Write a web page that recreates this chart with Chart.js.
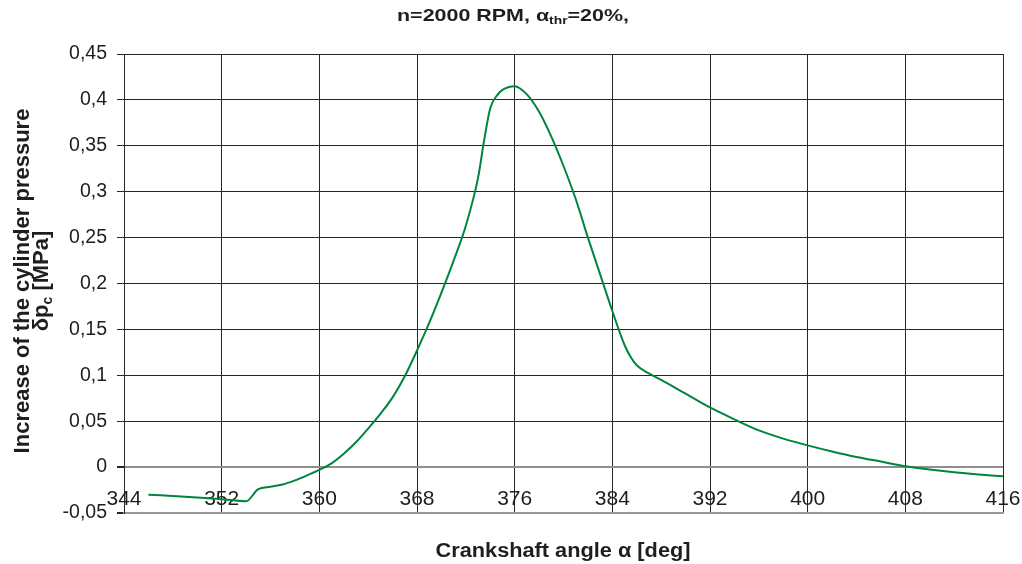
<!DOCTYPE html>
<html>
<head>
<meta charset="utf-8">
<script src="https://cdn.jsdelivr.net/npm/chart.js@4.4.1/dist/chart.umd.min.js"></script>
<style>
  html, body { margin: 0; padding: 0; background: #ffffff; }
  #wrap { width: 1022px; height: 564px; position: relative; }
</style>
</head>
<body>
<div id="wrap"><canvas id="c" width="1022" height="564"></canvas></div>
<script>
// ---- data ----
const angles = [346, 348, 350, 352, 354, 355, 356, 357, 358, 359, 360, 361, 362, 363, 364, 365, 366, 367, 368, 369, 370, 371, 372, 373, 373.5, 374, 374.5, 375, 376, 377, 378, 379, 380, 381, 382, 383, 384, 385, 385.5, 386, 387, 388, 390, 392, 394, 396, 398, 400, 402, 404, 406, 408, 410, 412, 414, 416];
const pressureIncrease = [-0.030, -0.0315, -0.033, -0.035, -0.0372, -0.024, -0.0215, -0.019, -0.0145, -0.009, -0.003, 0.004, 0.0145, 0.027, 0.042, 0.058, 0.076, 0.099, 0.127, 0.157, 0.19, 0.225, 0.263, 0.315, 0.356, 0.391, 0.404, 0.411, 0.415, 0.406, 0.387, 0.36, 0.328, 0.292, 0.25, 0.21, 0.17, 0.133, 0.12, 0.111, 0.102, 0.095, 0.080, 0.065, 0.052, 0.040, 0.031, 0.0237, 0.017, 0.011, 0.006, 0.001, -0.0025, -0.0055, -0.008, -0.010];
const xTicks = [344, 352, 360, 368, 376, 384, 392, 400, 408, 416];
const yTicks = [-0.05, 0, 0.05, 0.1, 0.15, 0.2, 0.25, 0.3, 0.35, 0.4, 0.45];

const FONT = "'Liberation Sans', Arial, Helvetica, sans-serif";
const TEXT = '#1e1e1e';

function fmtComma(v) {
  let s = (Math.round(v * 100) / 100).toString();
  return s.replace('.', ',');
}

function measureRuns(ctx, runs, weight) {
  let w = 0;
  runs.forEach(r => { ctx.font = weight + ' ' + r[1] + 'px ' + FONT; w += ctx.measureText(r[0]).width; });
  return w;
}
function paintRuns(ctx, runs, weight, x0, y0) {
  let x = x0;
  runs.forEach(r => {
    ctx.font = weight + ' ' + r[1] + 'px ' + FONT;
    ctx.fillText(r[0], x, y0 + (r[2] || 0));
    x += ctx.measureText(r[0]).width;
  });
}

const titlesPlugin = {
  id: 'titles',
  afterDraw(chart) {
    const ctx = chart.ctx;
    ctx.save();
    ctx.fillStyle = TEXT;
    ctx.textBaseline = 'alphabetic';
    ctx.textAlign = 'left';

    // chart title
    const tRuns = [['n=2000 RPM, ', 17, 0], ['\u03B1', 17, 0], ['thr', 11, 3], ['=20%,', 17, 0]];
    let w = measureRuns(ctx, tRuns, 'bold');
    let sx = 232 / w;
    ctx.save();
    ctx.translate(513, 21);
    ctx.scale(sx, 1);
    paintRuns(ctx, tRuns, 'bold', -w / 2, 0);
    ctx.restore();

    // x axis title
    const xRuns = [['Crankshaft angle \u03B1 [deg]', 19.5, 0]];
    w = measureRuns(ctx, xRuns, 'bold');
    sx = 255 / w;
    ctx.save();
    ctx.translate(563, 557);
    ctx.scale(sx, 1);
    paintRuns(ctx, xRuns, 'bold', -w / 2, 0);
    ctx.restore();

    // y axis title (two lines, rotated)
    const y1 = [['Increase of the cylinder pressure', 22, 0]];
    const y2 = [['\u03B4p', 22, 0], ['c', 14, 4], [' [MPa]', 22, 0]];
    ctx.save();
    ctx.translate(29, 281);
    ctx.rotate(-Math.PI / 2);
    w = measureRuns(ctx, y1, 'bold');
    paintRuns(ctx, y1, 'bold', -w / 2, 0);
    ctx.restore();
    ctx.save();
    ctx.translate(48, 281);
    ctx.rotate(-Math.PI / 2);
    w = measureRuns(ctx, y2, 'bold');
    paintRuns(ctx, y2, 'bold', -w / 2, 0);
    ctx.restore();

    ctx.restore();
  }
};

new Chart(document.getElementById('c'), {
  type: 'line',
  data: {
    datasets: [{
      data: angles.map((a, i) => ({ x: a, y: pressureIncrease[i] })),
      borderColor: '#00853e',
      borderWidth: 2,
      pointRadius: 0,
      fill: false,
      cubicInterpolationMode: 'monotone'
    }]
  },
  options: {
    responsive: false,
    animation: false,
    layout: { padding: { top: 54, right: 19, left: 0, bottom: 0 } },
    plugins: { legend: { display: false }, title: { display: false }, tooltip: { enabled: false } },
    scales: {
      x: {
        type: 'linear',
        min: 344, max: 416,
        afterBuildTicks(scale) { scale.ticks = xTicks.map(v => ({ value: v })); },
        afterFit(scale) { scale.height = 51; },
        grid: {
          color: '#262626', lineWidth: 1, drawTicks: false
        },
        border: { display: true, color: '#999999', width: 2 },
        ticks: {
          color: TEXT, font: { family: FONT, size: 21 }, padding: 1, mirror: true,
          maxRotation: 0, autoSkip: false,
          callback: v => String(v)
        }
      },
      y: {
        type: 'linear',
        min: -0.05, max: 0.45,
        afterBuildTicks(scale) { scale.ticks = yTicks.map(v => ({ value: v })); },
        afterFit(scale) { scale.width = 124; },
        grid: {
          color: c => (Math.abs(c.tick.value) < 1e-9 || Math.abs(c.tick.value + 0.05) < 1e-9) ? '#8e8e8e' : '#262626',
          lineWidth: c => (Math.abs(c.tick.value) < 1e-9 || Math.abs(c.tick.value + 0.05) < 1e-9) ? 2 : 1,
          tickColor: '#262626', tickLength: 7, drawTicks: true
        },
        border: { display: true, color: '#262626', width: 1 },
        ticks: {
          color: TEXT, font: { family: FONT, size: 19.5 }, padding: 10,
          autoSkip: false,
          callback: v => fmtComma(v)
        }
      }
    }
  },
  plugins: [titlesPlugin]
});
</script>
</body>
</html>
